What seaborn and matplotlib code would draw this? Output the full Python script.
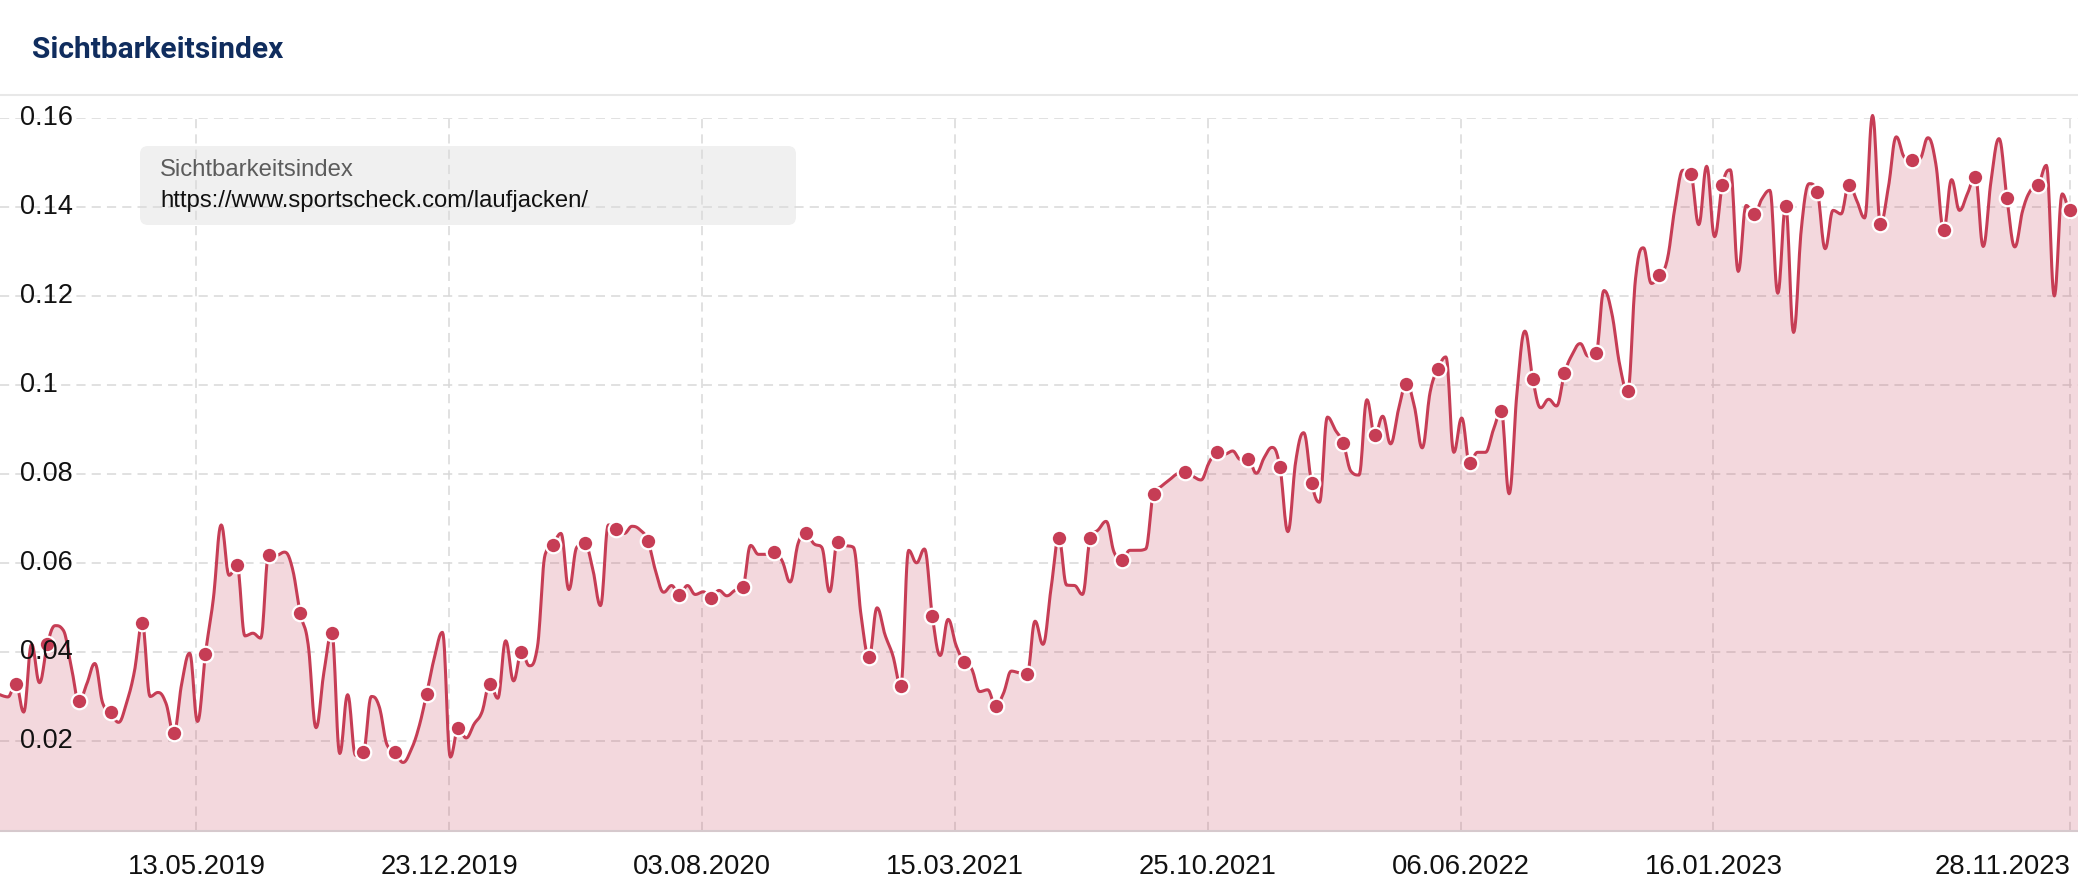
import numpy as np
import pandas as pd
import matplotlib
matplotlib.use("Agg")
import matplotlib.pyplot as plt
import matplotlib.dates as mdates
from matplotlib.patches import FancyBboxPatch
import seaborn as sns

# -----------------------------------
# Data (weekly visibility index)
# -----------------------------------

start_date = "2018-11-20"

visibility = [
    0.0305, 0.0300, 0.0330, 0.0266, 0.0418, 0.0332, 0.0419, 0.0460, 0.0450, 0.0370,
    0.0290, 0.0330, 0.0375, 0.0286, 0.0266, 0.0243, 0.0286, 0.0356, 0.0465, 0.0301,
    0.0310, 0.0286, 0.0219, 0.0330, 0.0398, 0.0245, 0.0397, 0.0520, 0.0686, 0.0573,
    0.0595, 0.0437, 0.0443, 0.0432, 0.0618, 0.0618, 0.0625, 0.0589, 0.0488, 0.0418,
    0.0231, 0.0356, 0.0443, 0.0173, 0.0305, 0.0169, 0.0177, 0.0301, 0.0278, 0.0192,
    0.0177, 0.0153, 0.0180, 0.0231, 0.0307, 0.0390, 0.0445, 0.0165, 0.0230, 0.0208,
    0.0239, 0.0266, 0.0330, 0.0297, 0.0426, 0.0336, 0.0401, 0.0370, 0.0410, 0.0620,
    0.0642, 0.0667, 0.0541, 0.0636, 0.0645, 0.0589, 0.0505, 0.0686, 0.0678, 0.0667,
    0.0683, 0.0675, 0.0650, 0.0581, 0.0535, 0.0550, 0.0528, 0.0550, 0.0530, 0.0536,
    0.0523, 0.0539, 0.0527, 0.0539, 0.0546, 0.0640, 0.0620, 0.0620, 0.0626, 0.0605,
    0.0558, 0.0644, 0.0668, 0.0644, 0.0636, 0.0536, 0.0648, 0.0640, 0.0636, 0.0480,
    0.0389, 0.0500, 0.0440, 0.0393, 0.0325, 0.0629, 0.0601, 0.0632, 0.0482, 0.0393,
    0.0474, 0.0416, 0.0379, 0.0362, 0.0312, 0.0316, 0.0280, 0.0308, 0.0358, 0.0354,
    0.0352, 0.0470, 0.0418, 0.0540, 0.0657, 0.0551, 0.0550, 0.0530, 0.0657, 0.0675,
    0.0694, 0.0625, 0.0608, 0.0629, 0.0629, 0.0632, 0.0756, 0.0773, 0.0787, 0.0801,
    0.0805, 0.0795, 0.0787, 0.0825, 0.0850, 0.0845, 0.0852, 0.0833, 0.0833, 0.0802,
    0.0837, 0.0860, 0.0815, 0.0671, 0.0830, 0.0893, 0.0781, 0.0737, 0.0928, 0.0899,
    0.0870, 0.0806, 0.0798, 0.0967, 0.0887, 0.0930, 0.0868, 0.0945, 0.1003, 0.0953,
    0.0859, 0.0984, 0.1036, 0.1063, 0.0849, 0.0926, 0.0825, 0.0849, 0.0849, 0.0899,
    0.0941, 0.0756, 0.0984, 0.1121, 0.1013, 0.0949, 0.0968, 0.0953, 0.1026, 0.1069,
    0.1093, 0.1065, 0.1071, 0.1212, 0.1161, 0.1045, 0.0986, 0.1239, 0.1308, 0.1228,
    0.1248, 0.1280, 0.1400, 0.1482, 0.1473, 0.1360, 0.1491, 0.1333, 0.1450, 0.1483,
    0.1255, 0.1403, 0.1383, 0.1418, 0.1437, 0.1206, 0.1401, 0.1118, 0.1354, 0.1452,
    0.1433, 0.1306, 0.1392, 0.1384, 0.1450, 0.1414, 0.1375, 0.1605, 0.1362, 0.1444,
    0.1557, 0.1512, 0.1504, 0.1508, 0.1555, 0.1497, 0.1348, 0.1461, 0.1392, 0.1429,
    0.1468, 0.1311, 0.1459, 0.1553, 0.1420, 0.1310, 0.1392, 0.1437, 0.1450, 0.1493,
    0.1200, 0.1429, 0.1392, 0.1395,
]

# every 4th week carries a marker
marker_offset = 2
marker_step = 4

xtick_dates = [
    "13.05.2019", "23.12.2019", "03.08.2020", "15.03.2021",
    "25.10.2021", "06.06.2022", "16.01.2023", "28.11.2023",
]

ytick_values = [0.02, 0.04, 0.06, 0.08, 0.10, 0.12, 0.14, 0.16]
ytick_labels = ["0.02", "0.04", "0.06", "0.08", "0.1", "0.12", "0.14", "0.16"]

title_text = "Sichtbarkeitsindex"
legend_title = "Sichtbarkeitsindex"
legend_url = "https://www.sportscheck.com/laufjacken/"

# -----------------------------------
# Spline rendering (highcharts-like)
# -----------------------------------

def spline_curve(xs, ys, smoothing=1.5, steps=14):

    n = len(xs)
    left = np.column_stack([xs, ys]).astype(float)
    right = left.copy()
    denom = smoothing + 1

    for i in range(1, n - 1):
        x, y = xs[i], ys[i]
        lx, ly = xs[i - 1], ys[i - 1]
        nx, ny = xs[i + 1], ys[i + 1]

        lcx = (smoothing * x + lx) / denom
        lcy = (smoothing * y + ly) / denom
        rcx = (smoothing * x + nx) / denom
        rcy = (smoothing * y + ny) / denom

        corr = ((rcy - lcy) * (rcx - x)) / (rcx - lcx) + y - rcy
        lcy += corr
        rcy += corr

        if lcy > ly and lcy > y:
            lcy = max(ly, y)
            rcy = 2 * y - lcy
        elif lcy < ly and lcy < y:
            lcy = min(ly, y)
            rcy = 2 * y - lcy
        if rcy > ny and rcy > y:
            rcy = max(ny, y)
            lcy = 2 * y - rcy
        elif rcy < ny and rcy < y:
            rcy = min(ny, y)
            lcy = 2 * y - rcy

        left[i] = (lcx, lcy)
        right[i] = (rcx, rcy)

    t = np.linspace(0, 1, steps)[:, None]
    pieces = []
    for i in range(n - 1):
        p0 = np.array([xs[i], ys[i]])
        p3 = np.array([xs[i + 1], ys[i + 1]])
        seg = ((1 - t) ** 3 * p0 + 3 * (1 - t) ** 2 * t * right[i]
               + 3 * (1 - t) * t ** 2 * left[i + 1] + t ** 3 * p3)
        pieces.append(seg if i == 0 else seg[1:])

    curve = np.vstack(pieces)
    return curve[:, 0], curve[:, 1]

# -----------------------------------
# Prepare
# -----------------------------------

dates = pd.date_range(start_date, periods=len(visibility), freq="7D")
date_nums = mdates.date2num(dates.to_pydatetime())
values = np.array(visibility)

curve_x, curve_y = spline_curve(date_nums, values)

marker_x = date_nums[marker_offset::marker_step]
marker_y = values[marker_offset::marker_step]

tick_nums = mdates.date2num(
    pd.to_datetime(xtick_dates, format="%d.%m.%Y").to_pydatetime()
)

# -----------------------------------
# Visualization
# -----------------------------------

sns.set_theme(style="white")
plt.rcParams["font.family"] = ["Liberation Sans", "DejaVu Sans"]

W, H = 2078, 896
red = "#c63d55"

fig = plt.figure(figsize=(W / 100, H / 100), dpi=100)
fig.patch.set_facecolor("white")

ax = fig.add_axes([0, 1 - 830.6 / H, 1, 712.9 / H])
ax.set_facecolor("white")

ax.set_xlim(date_nums[0], date_nums[-1])
ax.set_ylim(0, 0.16)

ax.set_xticks(tick_nums)
ax.set_xticklabels(xtick_dates, fontsize=19.8, color="#111111")
ax.get_xticklabels()[-1].set_ha("right")
ax.set_yticks(ytick_values)
ax.set_yticklabels([])
ax.tick_params(axis="both", length=0)
ax.tick_params(axis="x", pad=17)

ax.grid(True, color="#d9d9d9", linestyle=(0, (6, 4)), linewidth=1.1)
ax.set_axisbelow(True)

# legend box behind grid
legend_box = FancyBboxPatch(
    (1.40, (H - 225) / 100), 6.56, 0.79,
    boxstyle="round,pad=0,rounding_size=0.08",
    transform=fig.dpi_scale_trans,
    facecolor="#f0f0f0",
    edgecolor="none",
    zorder=0.2,
    clip_on=False
)
ax.add_patch(legend_box)

ax.fill_between(curve_x, 0, curve_y, color=red, alpha=0.2, linewidth=0, zorder=2)

sns.lineplot(
    x=curve_x,
    y=curve_y,
    ax=ax,
    color=red,
    linewidth=2.2,
    estimator=None,
    sort=False,
    zorder=3
)
for line in ax.lines:
    line.set_clip_on(False)

sns.scatterplot(
    x=marker_x,
    y=marker_y,
    ax=ax,
    s=125,
    color=red,
    edgecolor="white",
    linewidth=1.6,
    zorder=4,
    clip_on=False
)

for v, lab in zip(ytick_values, ytick_labels):
    ax.text(
        20 / W, v, lab,
        transform=ax.get_yaxis_transform(),
        fontsize=19.5,
        color="#111111",
        ha="left",
        va="center",
        zorder=5
    )

sns.despine(ax=ax, left=True, top=True, right=True)
ax.spines["bottom"].set_color("#d6c9cd")
ax.spines["bottom"].set_linewidth(1.5)
ax.set_xlabel("")
ax.set_ylabel("")

# header
fig.add_artist(plt.Line2D(
    [0, 1], [1 - 95 / H, 1 - 95 / H],
    transform=fig.transFigure,
    color="#e8e8e8",
    linewidth=1.5
))

fig.text(
    32 / W, 1 - 50 / H, title_text,
    fontsize=21.5,
    fontweight="bold",
    family="Roboto",
    color="#102d5e",
    ha="left",
    va="center"
)

fig.text(160 / W, 1 - 170 / H, legend_title,
         fontsize=17.2, color="#5c5c5c", ha="left", va="center")
fig.text(160 / W, 1 - 201 / H, legend_url,
         fontsize=17.2, color="#111111", ha="left", va="center")

fig.savefig("out.png", dpi=100, facecolor="white")
